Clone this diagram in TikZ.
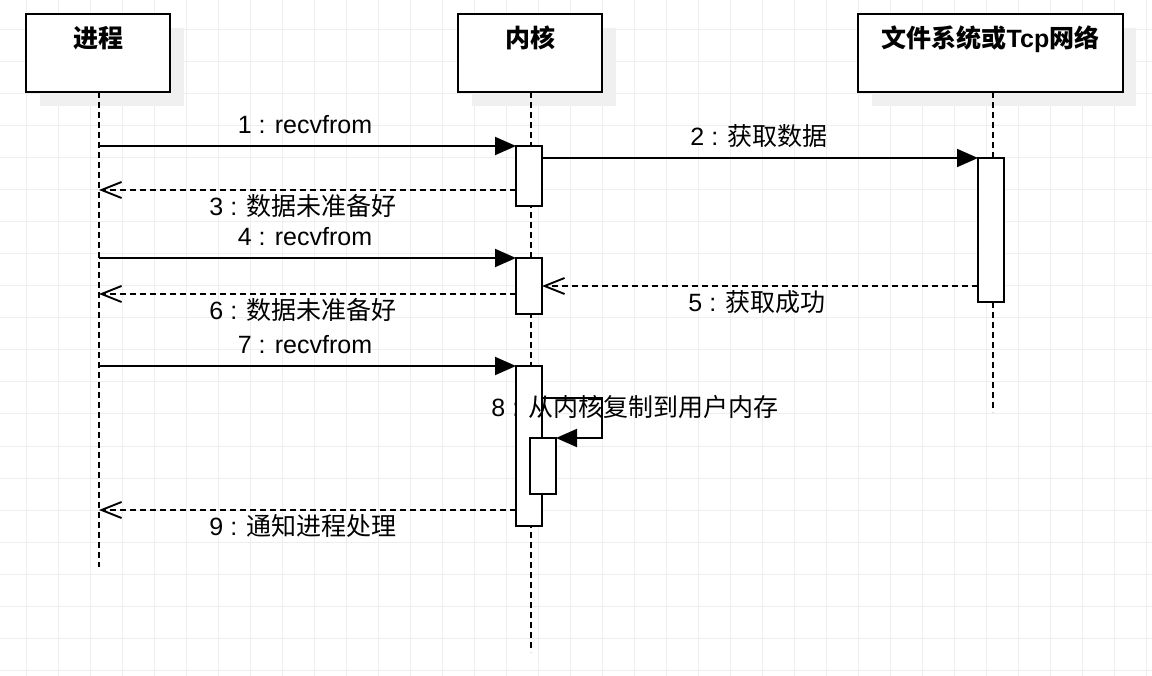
\documentclass[tikz,border=0pt]{standalone}
\usepackage{fontspec}
\setmainfont{Liberation Sans}
\newfontfamily\cjk{Noto Sans CJK SC}
\usetikzlibrary{arrows.meta}
\definecolor{gridc}{HTML}{EEEEEE}
\definecolor{shadowc}{HTML}{F0F0F0}
\tikzset{
  hdrbox/.style={draw=black, line width=1.9pt, fill=white, anchor=north west, inner sep=0pt, outer sep=0pt},
  hdrtext/.style={anchor=base, inner sep=0pt, font=\fontsize{25}{30}\selectfont\bfseries},
  actbox/.style={draw=black, line width=1.9pt, fill=white, anchor=north west, inner sep=0pt, outer sep=0pt, minimum width=26pt},
  life/.style={line width=1.9pt, dash pattern=on 6pt off 4pt},
  msg/.style={line width=1.9pt, -{Triangle[length=21pt,width=18pt]}},
  ret/.style={line width=1.9pt, dash pattern=on 6pt off 4pt, -{Straight Barb[length=20pt,width=16pt,line width=1.9pt]}},
  lbl/.style={anchor=base, inner sep=0pt, font=\fontsize{25}{30}\selectfont},
}
\begin{document}
\begin{tikzpicture}[x=1pt,y=-1pt]
\useasboundingbox (0,0) rectangle (1152,676);
\fill[white] (0,0) rectangle (1152,676);
% grid
\foreach \gx in {26,58,...,1146} \draw[gridc, line width=1pt] (\gx,0) -- (\gx,676);
\foreach \gy in {30,62,...,670} \draw[gridc, line width=1pt] (0,\gy) -- (1152,\gy);
% shadows
\fill[shadowc] (40,28) rectangle (184,106);
\fill[shadowc] (472,28) rectangle (616,106);
\fill[shadowc] (872,28) rectangle (1136,106);
% lifeline coordinates
\coordinate (l1a) at (99,92);  \coordinate (l1b) at (99,567);
\coordinate (l2a) at (531,92); \coordinate (l2b) at (531,652);
\coordinate (l3a) at (993,92); \coordinate (l3b) at (993,412);
\draw[life] (l1a) -- (l1b);
\draw[life] (l2a) -- (l2b);
\draw[life] (l3a) -- (l3b);
% header boxes
\node[hdrbox, minimum width=144pt, minimum height=78pt] (p1) at (26,14) {};
\node[hdrbox, minimum width=144pt, minimum height=78pt] (p2) at (458,14) {};
\node[hdrbox, minimum width=265pt, minimum height=78pt] (p3) at (858,14) {};
\node[hdrtext] (t1) at (98,47.5) {\cjk\bfseries 进程};
\node[hdrtext] (t2) at (530,47.5) {\cjk\bfseries 内核};
\node[hdrtext] (t3) at (990.5,47.5) {{\cjk\bfseries 文件系统或}Tcp{\cjk\bfseries 网络}};
% activations
\node[actbox, minimum height=60pt] (a1) at (516,146) {};
\node[actbox, minimum height=56pt] (a2) at (516,258) {};
\node[actbox, minimum height=160pt] (a3) at (516,366) {};
\node[actbox, minimum height=56pt] (a4) at (530,438) {};
\node[actbox, minimum height=144pt] (f1) at (978,158) {};
% message coordinates
\coordinate (m1) at (99,146);
\coordinate (m2) at (542,158);
\coordinate (m3) at (99,190);
\coordinate (m4) at (99,258);
\coordinate (m5) at (760,286);
\coordinate (m6) at (99,294);
\coordinate (m7) at (99,366);
\coordinate (m8a) at (542,398);
\coordinate (m8b) at (602,398);
\coordinate (m8c) at (602,438);
\coordinate (m9) at (99,510);
% messages
\draw[msg] (m1) -- (a1.north west);
\draw[msg] (m2) -- (f1.north west);
\draw[ret] (a1.west |- m3) -- (m3);
\draw[msg] (m4) -- (a2.north west);
\draw[ret] (f1.west |- m5) -- (a2.east |- m5);
\draw[ret] (a2.west |- m6) -- (m6);
\draw[msg] (m7) -- (a3.north west);
\draw[msg] (m8a) -- (m8b) -- (m8c) -- (a4.north east);
\draw[ret] (a3.west |- m9) -- (m9);
% labels
\node[lbl] (n1) at (305,133.5) {1 : recvfrom};
\node[lbl] (n2) at (759,145.5) {2 : {\cjk 获取数据}};
\node[lbl] (n3) at (303,215.5) {3 : {\cjk 数据未准备好}};
\node[lbl] (n4) at (305,245.5) {4 : recvfrom};
\node[lbl] (n5) at (757,311.5) {5 : {\cjk 获取成功}};
\node[lbl] (n6) at (303,319.5) {6 : {\cjk 数据未准备好}};
\node[lbl] (n7) at (305,353.5) {7 : recvfrom};
\node[lbl] (n8) at (635,416.5) {8 : {\cjk 从内核复制到用户内存}};
\node[lbl] (n9) at (303,535.5) {9 : {\cjk 通知进程处理}};
\end{tikzpicture}
\end{document}
